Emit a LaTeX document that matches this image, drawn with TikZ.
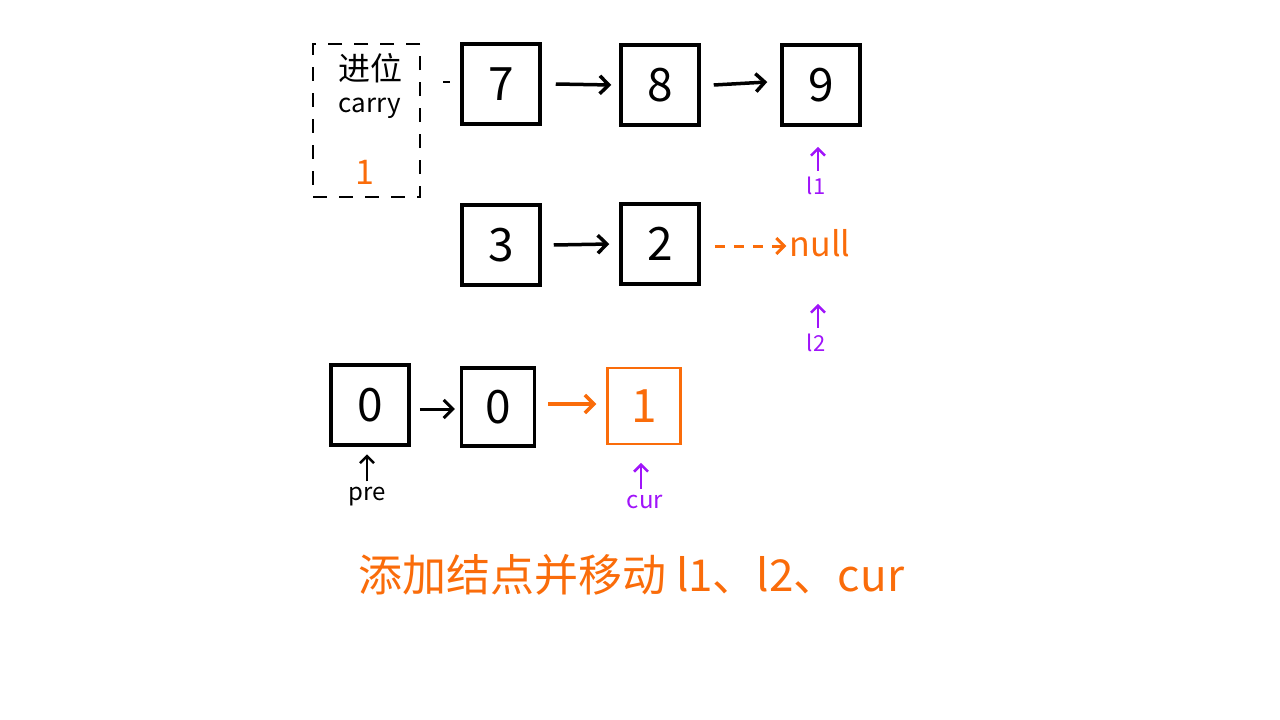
\documentclass[tikz,border=0pt]{standalone}
\usepackage{fontspec}
\setmainfont{Noto Sans CJK SC}
\usetikzlibrary{arrows.meta}
\definecolor{orng}{RGB}{250,108,10}
\definecolor{purp}{RGB}{160,20,250}
\begin{document}
\begin{tikzpicture}[x=1pt,y=-1pt,
  box/.style={draw=black,line width=3.5pt,minimum width=78pt,minimum height=80pt,inner sep=0pt,font=\fontsize{46}{50}\selectfont},
  obox/.style={draw=orng,line width=2.5pt,minimum width=73pt,minimum height=76pt,inner sep=0pt,text=orng,font=\fontsize{46}{50}\selectfont},
  arr/.style={line width=3.5pt,-{Straight Barb[length=9pt,width=18pt]}},
  parr/.style={draw=purp,line width=2.5pt,-{Straight Barb[length=7pt,width=14pt]}},
  lbl/.style={inner sep=0pt,font=\fontsize{24}{26}\selectfont}
]
\useasboundingbox (0,0) rectangle (1280,720);
% carry box
\node[draw,line width=2pt,dash pattern=on 14pt off 12pt,minimum width=107pt,minimum height=153pt,inner sep=0pt] (carry) at (366.5,120.5) {};
\node[lbl,font=\fontsize{32}{34}\selectfont] (jw) at (370,68) {进位};
\node[lbl,font=\fontsize{26}{28}\selectfont] (cw) at (370,108) {carry};
\node[lbl,text=orng,font=\fontsize{34}{36}\selectfont] (c1) at (365,172) {1};
% row 1
\node[box] (n7) at (501,84) {7};
\node[box] (n8) at (660,85) {8};
\node[box] (n9) at (821,85) {9};
\coordinate (stub) at (443,82);
\draw[line width=2pt] (stub) -- ++(7,0);
\draw[arr] ([xshift=14pt]n7.east) -- ([xshift=-8pt]n8.west);
\draw[arr] ([xshift=13pt]n8.east) -- ([xshift=-13pt,yshift=3pt]n9.west);
% row 2
\node[box] (n3) at (501,245) {3};
\node[box] (n2) at (660,244) {2};
\node[lbl,text=orng,font=\fontsize{34}{36}\selectfont] (null) at (820,243) {null};
\draw[arr] ([xshift=12pt]n3.east) -- ([xshift=-10pt]n2.west);
\draw[line width=3pt,draw=orng,dash pattern=on 10pt off 9pt,-{Straight Barb[length=8pt,width=16pt]}] ([xshift=14pt,yshift=-2pt]n2.east) -- ([xshift=-3pt,yshift=-3pt]null.west);
% l1, l2
\node[lbl,text=purp,font=\fontsize{22}{24}\selectfont] (l1) at (816,186) {l1};
\node[lbl,text=purp,font=\fontsize{22}{24}\selectfont] (l2) at (816,343) {l2};
\draw[parr] ([xshift=2pt,yshift=6pt]l1.north) -- ++(0,-24);
\draw[parr] ([xshift=2pt,yshift=6pt]l2.north) -- ++(0,-24);
% row 3
\node[box] (a0) at (370,405) {0};
\node[box,minimum width=73pt,minimum height=78pt] (b0) at (498,407) {0};
\node[obox] (o1) at (644,406) {1};
\draw[arr,line width=3pt] ([xshift=9pt,yshift=-4pt]a0.east) -- ([xshift=-5pt,yshift=-2pt]b0.west);
\draw[arr,draw=orng,line width=3.5pt] ([xshift=12pt,yshift=3pt]b0.east) -- ([xshift=-10pt,yshift=2pt]o1.west);
\node[lbl] (pre) at (367,497) {pre};
\node[lbl,text=purp] (cur) at (645,502) {cur};
\draw[line width=2.5pt,-{Straight Barb[length=7pt,width=14pt]}] ([yshift=6pt]pre.north) -- ++(0,-27);
\draw[parr] ([xshift=-4pt,yshift=6pt]cur.north) -- ++(0,-26);
% caption
\node[inner sep=0pt,text=orng,font=\fontsize{44}{48}\selectfont,anchor=west] (cap) at (358,575) {添加结点并移动 l1、l2、cur};
\end{tikzpicture}
\end{document}
